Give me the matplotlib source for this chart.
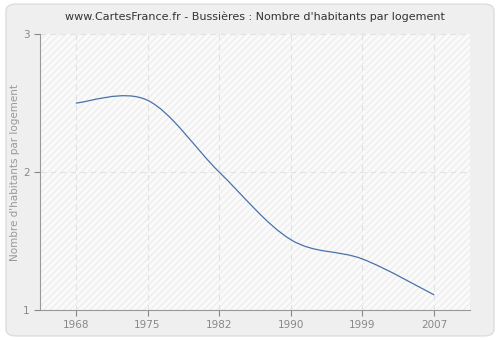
import numpy as np
import matplotlib.pyplot as plt
from matplotlib.path import Path
from matplotlib.patches import PathPatch, FancyBboxPatch

years = ["1968", "1975", "1982", "1990", "1999", "2007"]
habitants = [2.50, 2.52, 2.00, 1.51, 1.37, 1.11]

fig = plt.figure(figsize=(5, 3.4), dpi=100)
fig.patch.set_facecolor("white")

# rounded grey panel behind everything
panel = FancyBboxPatch((0.012, 0.012), 0.976, 0.976, boxstyle="round,pad=0,rounding_size=0.02",
                       transform=fig.transFigure, facecolor="#efefef", edgecolor="#dddddd", lw=1,
                       zorder=-10)
fig.patches.append(panel)

ax = fig.add_axes([0.08, 0.088, 0.86, 0.812])
ax.set_facecolor("#fafafa")
ax.patch.set_hatch("/////")
ax.patch.set_edgecolor("#eeeeee")
ax.patch.set_linewidth(0)

x = np.arange(len(years))
y = np.array(habitants)

# smooth curve through the points (catmull-rom as cubic bezier segments)
verts = [(x[0], y[0])]
codes = [Path.MOVETO]
for i in range(len(x) - 1):
    p0 = (x[i - 1], y[i - 1]) if i > 0 else (x[i], y[i])
    p1 = (x[i], y[i])
    p2 = (x[i + 1], y[i + 1])
    p3 = (x[i + 2], y[i + 2]) if i + 2 < len(x) else (x[i + 1], y[i + 1])
    c1 = (p1[0] + (p2[0] - p0[0]) / 6, p1[1] + (p2[1] - p0[1]) / 6)
    c2 = (p2[0] - (p3[0] - p1[0]) / 6, p2[1] - (p3[1] - p1[1]) / 6)
    verts += [c1, c2, p2]
    codes += [Path.CURVE4] * 3
ax.add_patch(PathPatch(Path(verts, codes), facecolor="none", edgecolor="#4a72a8", lw=0.9, zorder=3))

ax.set_xlim(-0.5, 5.5)
ax.set_ylim(1, 3)
ax.set_xticks(x)
ax.set_xticklabels(years)
ax.set_yticks([1, 2, 3])

for s in ["top", "right"]:
    ax.spines[s].set_visible(False)
for s in ["left", "bottom"]:
    ax.spines[s].set_color("#999999")
ax.tick_params(colors="#888888", labelsize=7.5, length=4, width=0.8)
ax.tick_params(axis="x", labelcolor="#888888")

ax.grid(True, color="#e2e2e2", linestyle=(0, (5, 4)), lw=0.8)
ax.set_axisbelow(True)

ax.set_ylabel("Nombre d'habitants par logement", color="#999999", fontsize=7.5, labelpad=2)
ax.set_title("www.CartesFrance.fr - Bussières : Nombre d'habitants par logement",
             fontsize=8, color="#333333", pad=10)

fig.savefig("out.png", dpi=100, facecolor=fig.get_facecolor())
